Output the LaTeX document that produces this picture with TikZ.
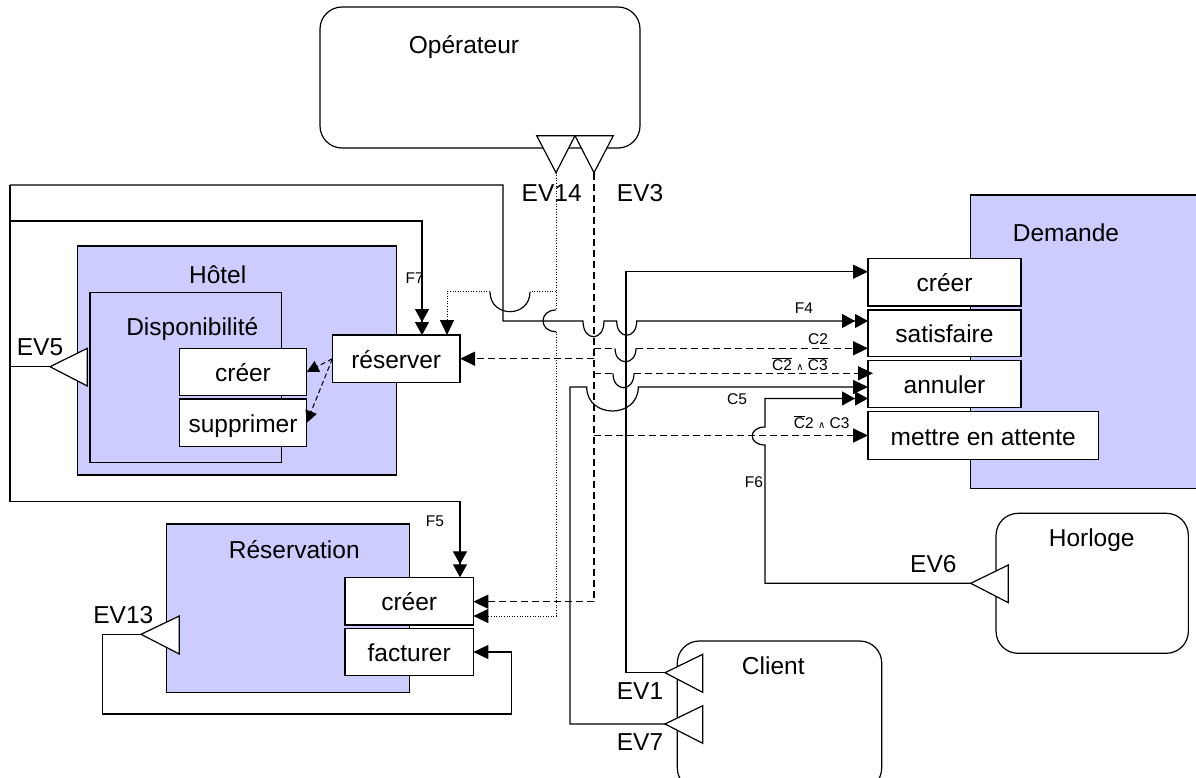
\documentclass[tikz,border=0pt]{standalone}
\usepackage{fontspec}
\setmainfont{Liberation Sans}
\newfontfamily\djv{DejaVu Sans}
\usetikzlibrary{arrows.meta}
\definecolor{boxblue}{RGB}{204,204,255}
\newcommand\ovl[1]{$\overline{\hbox{#1}}$}
\newcommand\wdg{{\djv\fontsize{10}{10}\selectfont ∧}}
\begin{document}
\begin{tikzpicture}[x=1pt,y=-1pt,
  every node/.style={inner sep=0pt, outer sep=0pt},
  big/.style={font=\fontsize{24.5}{29}\selectfont},
  small/.style={font=\fontsize{15.5}{18}\selectfont},
  ln/.style={line width=1.2pt, line join=miter},
  dsh/.style={line width=1.5pt, dash pattern=on 7pt off 4pt},
  dshthin/.style={line width=1pt, dash pattern=on 5pt off 3pt},
  dtt/.style={line width=1pt, dash pattern=on 1pt off 1.6pt},
  hop/.style={line width=1.2pt},
  sa/.style={-{Triangle[length=15pt,width=14pt]}},
  ssa/.style={-{Triangle[length=12pt,width=12pt]}},
  da/.style={-{Triangle[length=13pt,width=14pt]Triangle[length=13pt,width=14pt]}},
  box/.style={draw, line width=1.2pt, fill=white, big, text height=22pt, text depth=3pt},
  cont/.style={draw, line width=1.2pt, fill=boxblue},
  actor/.style={draw, line width=1.2pt, rounded corners=22pt, fill=white},
  evt/.style={draw, line width=1.2pt, fill=white, line join=miter},
]
\useasboundingbox (0,0) rectangle (1196,778);

% containers
\node[cont, minimum width=319.4pt, minimum height=229pt] (hotel) at (237,360.5) {};
\node[cont, minimum width=191.7pt, minimum height=170pt] (dispo) at (185.85,377.7) {};
\node[cont, minimum width=242.6pt, minimum height=168.3pt] (resa) at (288,608.15) {};
\node[cont, minimum width=244.3pt, minimum height=293.3pt] (demande) at (1092.85,341.65) {};

% actors
\node[actor, minimum width=320pt, minimum height=141pt] (op) at (480,77.5) {};
\node[actor, minimum width=192.3pt, minimum height=140pt] (horloge) at (1092.2,583.3) {};
\node[actor, minimum width=204.4pt, minimum height=149pt] (client) at (779.5,715.5) {};

% operation boxes
\node[box, minimum width=127.4pt, minimum height=47.4pt] (hcreer) at (243,372) {créer};
\node[box, minimum width=127.4pt, minimum height=47.7pt] (hsupp) at (243,422.8) {supprimer};
\node[box, minimum width=127.7pt, minimum height=47.3pt] (reserver) at (396.2,358.7) {réserver};
\node[box, minimum width=128.3pt, minimum height=47.7pt] (rcreer) at (409.2,601.2) {créer};
\node[box, minimum width=128.3pt, minimum height=47.4pt] (rfact) at (409.2,652) {facturer};
\node[box, minimum width=153pt, minimum height=47.7pt] (dcreer) at (944.5,282.2) {créer};
\node[box, minimum width=153pt, minimum height=46.7pt] (dsatis) at (944.5,333.3) {satisfaire};
\node[box, minimum width=153pt, minimum height=47pt] (dannul) at (944.5,384.2) {annuler};
\node[box, minimum width=230.3pt, minimum height=47.6pt] (dattente) at (983.2,435.5) {mettre en attente};

% event coordinates
\coordinate (ev5) at (50,366.7);
\coordinate (ev14) at (556,172.7);
\coordinate (ev3) at (594,172.7);
\coordinate (ev1) at (665,672.7);
\coordinate (ev7) at (665,724);
\coordinate (ev6) at (970.7,583.3);
\coordinate (ev13) at (141,634.3);

% waypoints
\coordinate (j5a) at (10,185);
\coordinate (j5b) at (10,221);
\coordinate (j5c) at (10,501.7);
\coordinate (j5l) at (10,366.7);
\coordinate (f4) at (636.7,321);
\coordinate (f7) at (422,221);
\coordinate (f5) at (460,501.7);
\coordinate (d14) at (556,616);
\coordinate (d14b) at (447,291.7);
\coordinate (d3) at (594,601.7);
\coordinate (d3r) at (594,358.7);
\coordinate (c2) at (636,348.3);
\coordinate (c23) at (634,373.3);
\coordinate (att) at (594,435.5);
\coordinate (e1) at (626,271.7);
\coordinate (e7) at (638.3,387);
\coordinate (f6) at (765,398.5);

% EV5 connectors
\draw[ln] (ev5) -- (j5l);
\draw[ln] (j5a) -- (j5c);
\draw[ln,da] (j5a) -- (503,185) -- (503,321) -- (583,321)
   .. controls (583,342) and (604,342) .. (604,321) -- (616.7,321)
   .. controls (616.7,340) and (636.7,340) .. (f4) -- (dsatis.west |- f4);
\draw[ln,da] (j5b) -- (f7) -- (f7 |- reserver.north);
\draw[ln,da] (j5c) -- (f5) -- (f5 |- rcreer.north);

% EV14 dotted
\draw[dtt] (ev14) -- (556,310);
\draw[hop] (556,310) .. controls (538.7,310) and (538.7,331.7) .. (556,331.7);
\draw[dtt,sa] (556,331.7) -- (d14) -- (rcreer.east |- d14);
\draw[dtt] (556,291.7) -- (530,291.7);
\draw[hop] (530,291.7) .. controls (530,318.3) and (490,318.3) .. (490,291.7);
\draw[dtt,sa] (490,291.7) -- (d14b) -- (d14b |- reserver.north);

% EV3 dashed
\draw[dsh,sa] (ev3) -- (d3) -- (rcreer.east |- d3);
\draw[dsh,sa] (d3r) -- (reserver.east);
\draw[dsh] (594,348.3) -- (615,348.3);
\draw[hop] (615,348.3) .. controls (615,366.2) and (636,366.2) .. (c2);
\draw[dsh,sa] (c2) -- (dsatis.west |- c2);
\draw[dsh] (594,373.3) -- (613,373.3);
\draw[hop] (613,373.3) .. controls (613,392.5) and (634,392.5) .. (c23);
\draw[dsh,sa] (c23) -- ([xshift=5pt]dannul.west |- c23);
\draw[dsh,sa] (att) -- (dattente.west);

% EV1
\draw[ln,sa] (ev1) -- (626,672.7) -- (e1) -- (dcreer.west |- e1);
% EV7
\draw[ln,sa] (ev7) -- (570,724) -- (570,387) -- (586.7,387)
   .. controls (586.7,419) and (638.3,419) .. (e7) -- (dannul.west |- e7);
% EV6
\draw[ln,da] (ev6) -- (765,583.3) -- (765,445)
   .. controls (748,445) and (748,427) .. (765,427) -- (f6) -- (dannul.west |- f6);
% EV13
\draw[ln,sa] (ev13) -- (102.7,634.3) -- (102.7,714) -- (511.7,714) -- (511.7,652) -- (rfact.east);

% reserver -> creer / supprimer
\draw[dshthin,ssa] (reserver.west) -- (hcreer.east);
\draw[dshthin,ssa] (reserver.west) -- (hsupp.east);

% event triangles
\draw[evt] (536.7,135.7) -- (575,135.7) -- (ev14) -- cycle;
\draw[evt] (575,135.7) -- (613.3,135.7) -- (ev3) -- cycle;
\draw[evt] (87.3,348.3) -- (87.3,386) -- (ev5) -- cycle;
\draw[evt] (179.3,616) -- (179.3,654) -- (ev13) -- cycle;
\draw[evt] (1008.3,565) -- (1008.3,602.7) -- (ev6) -- cycle;
\draw[evt] (702.7,654.3) -- (702.7,692.3) -- (ev1) -- cycle;
\draw[evt] (702.7,705.7) -- (702.7,743.3) -- (ev7) -- cycle;

% big labels
\node[big, anchor=base] (lop) at (464,53.5) {Opérateur};
\node[big, anchor=base] (lhot) at (217.7,283.5) {Hôtel};
\node[big, anchor=base] (ldis) at (192.3,335) {Disponibilité};
\node[big, anchor=base] (lres) at (294.3,558.3) {Réservation};
\node[big, anchor=base] (ldem) at (1066,241.7) {Demande};
\node[big, anchor=base] (lhor) at (1091.7,546.7) {Horloge};
\node[big, anchor=base] (lcli) at (773.3,674) {Client};
\node[big, anchor=base] (l14) at (551.7,201.7) {EV14};
\node[big, anchor=base] (l3) at (640,201.7) {EV3};
\node[big, anchor=base] (l5) at (40,355) {EV5};
\node[big, anchor=base] (l13) at (123.3,623.3) {EV13};
\node[big, anchor=base] (l6) at (933.3,572.3) {EV6};
\node[big, anchor=base] (l1) at (640,699.3) {EV1};
\node[big, anchor=base] (l7) at (640,750.7) {EV7};

% small labels
\node[small, anchor=base] (lf7) at (414.7,283.3) {F7};
\node[small, anchor=base] (lf5) at (435,526) {F5};
\node[small, anchor=base] (lf4) at (804,313.3) {F4};
\node[small, anchor=base] (lc2) at (818,344) {C2};
\node[small, anchor=base] (lc23) at (800,370.7) {\ovl{C2} \wdg{} \ovl{C3}};
\node[small, anchor=base] (lc5) at (737,404) {C5};
\node[small, anchor=base] (lnc2) at (821.7,428.3) {\ovl{C}2 \wdg{} C3};
\node[small, anchor=base] (lf6) at (754,487.3) {F6};
\end{tikzpicture}
\end{document}
